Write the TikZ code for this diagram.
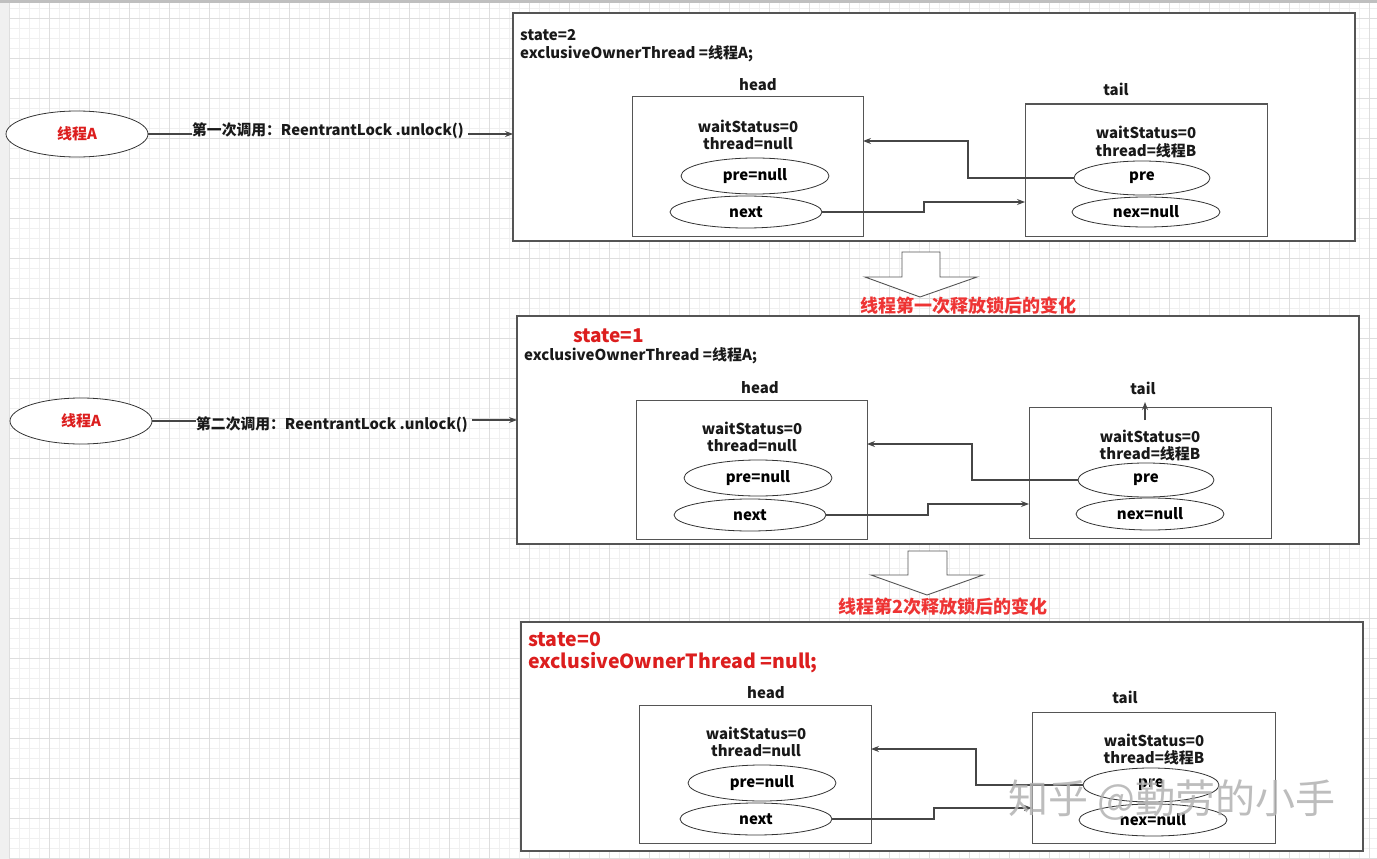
\documentclass[tikz,border=0pt]{standalone}
\usepackage{fontspec}
\setmainfont{Noto Sans CJK SC}
\usetikzlibrary{shapes.geometric,arrows.meta}
\definecolor{edge}{RGB}{85,85,85}
\definecolor{conn}{RGB}{70,70,70}
\definecolor{darkred}{RGB}{220,30,30}
\definecolor{lightred}{RGB}{238,52,52}
\definecolor{gminor}{RGB}{240,240,240}
\definecolor{gmajor}{RGB}{222,222,222}
\tikzset{
  txt/.style={font=\bfseries\fontsize{15}{17}\selectfont, text=black!90, inner sep=0pt},
  panel/.style={draw=edge, line width=1.2pt, fill=white, inner sep=0pt, outer sep=0pt},
  nodebox/.style={draw=edge, line width=1pt, fill=white, inner sep=0pt, outer sep=0pt},
  oval/.style={ellipse, draw=black!80, line width=0.8pt, fill=white, inner sep=0pt, outer sep=0pt, font=\bfseries\fontsize{15}{17}\selectfont},
  arr/.style={draw=conn, line width=1.1pt, -{Stealth[length=8pt,width=6pt]}},
  plain/.style={draw=conn, line width=1.1pt},
  bigarrow/.style={draw=edge, line width=0.9pt, fill=white},
  redlabel/.style={font=\bfseries\fontsize{18}{20}\selectfont, text=lightred, inner sep=0pt},
}
\begin{document}
\begin{tikzpicture}[x=1pt,y=-1pt]
\useasboundingbox (0,0) rectangle (1377,859);
\fill[white] (0,0) rectangle (1377,859);
% grid
\foreach \i in {0,...,137} {\draw[gminor, line width=0.6pt] (9.5+\i*10,3) -- (9.5+\i*10,859);}
\foreach \j in {0,...,85} {\draw[gminor, line width=0.6pt] (9,8+\j*10) -- (1377,8+\j*10);}
\foreach \i in {0,...,34} {\draw[gmajor, line width=0.6pt] (9.5+\i*40,3) -- (9.5+\i*40,859);}
\foreach \j in {0,...,21} {\draw[gmajor, line width=0.6pt] (9,18+\j*40) -- (1377,18+\j*40);}
\fill[black!6] (0,0) rectangle (9,859);
\fill[black!25] (0,0) rectangle (1377,3);

% ---------- Panel 1 ----------
\node[panel, minimum width=842pt, minimum height=228pt] (P1) at (934,127) {};
\node[txt, anchor=west] (s1) at (520,35) {state=2};
\node[txt, anchor=west] (e1) at (520,54) {exclusiveOwnerThread =线程A;};
\node[txt] (h1) at (758,85) {head};
\node[nodebox, minimum width=231pt, minimum height=139pt] (hb1) at (747.5,166.5) {};
\node[txt] (hw1) at (748,126) {waitStatus=0};
\node[txt] (ht1) at (748,144) {thread=null};
\node[oval, minimum width=148pt, minimum height=36pt] (hp1) at (755,176) {pre=null};
\node[oval, minimum width=152pt, minimum height=32pt] (hn1) at (746,212) {next};
\node[txt] (t1) at (1116,89) {tail};
\node[nodebox, minimum width=242pt, minimum height=132pt] (tb1) at (1146,170) {};
\node[txt] (tw1) at (1146,132) {waitStatus=0};
\node[txt] (tt1) at (1146,151) {thread=线程B};
\node[oval, minimum width=136pt, minimum height=34pt] (tp1) at (1142,178) {pre};
\node[oval, minimum width=148pt, minimum height=30pt] (tn1) at (1146,212) {nex=null};
\coordinate (c1a) at (968,141);
\coordinate (c1b) at (924,202);
\draw[arr] (tp1.west) -| (c1a) -- (c1a -| hb1.east);
\draw[arr] (hn1.east) -| (c1b) -- (c1b -| tb1.west);

% thread A (1)
\node[ellipse, draw=black!80, line width=0.8pt, fill=white, minimum width=142pt, minimum height=46pt, inner sep=0pt, font=\bfseries\fontsize{15}{17}\selectfont, text=darkred] (A1) at (77,134) {线程A};
\node[txt, font=\bfseries\fontsize{14.8}{17}\selectfont] (L1) at (328,131) {第一次调用：ReentrantLock .unlock()};
\draw[plain] (A1.east) -- (A1.east -| L1.west);
\draw[arr] ([xshift=4pt,yshift=-3pt]L1.east) -- ([yshift=-3pt]L1.east -| P1.west);

% big arrow 1
\draw[bigarrow] (902,252) -- (940,252) -- (940,277) -- (977,277) -- (920,297) -- (865,277) -- (902,277) -- cycle;
\node[redlabel] (R1) at (968,306) {线程第一次释放锁后的变化};

% ---------- Panel 2 ----------
\node[panel, minimum width=842pt, minimum height=228pt] (P2) at (938,430) {};
\node[txt, anchor=west, font=\bfseries\fontsize{19}{21}\selectfont, text=darkred] (s2) at (573,336) {state=1};
\node[txt, anchor=west] (e2) at (524,356) {exclusiveOwnerThread =线程A;};
\node[txt] (h2) at (760,388) {head};
\node[nodebox, minimum width=231pt, minimum height=139pt] (hb2) at (751.5,469.5) {};
\node[txt] (hw2) at (752,428) {waitStatus=0};
\node[txt] (ht2) at (752,446) {thread=null};
\node[oval, minimum width=148pt, minimum height=36pt] (hp2) at (758,478) {pre=null};
\node[oval, minimum width=152pt, minimum height=32pt] (hn2) at (750,515) {next};
\node[txt] (t2) at (1143,388) {tail};
\node[nodebox, minimum width=242pt, minimum height=131pt] (tb2) at (1150,472.5) {};
\node[txt] (tw2) at (1150,436) {waitStatus=0};
\node[txt] (tt2) at (1150,454) {thread=线程B};
\node[oval, minimum width=136pt, minimum height=34pt] (tp2) at (1146,480) {pre};
\node[oval, minimum width=148pt, minimum height=32pt] (tn2) at (1150,514) {nex=null};
\coordinate (c2a) at (972,444);
\coordinate (c2b) at (928,504);
\draw[arr] (tp2.west) -| (c2a) -- (c2a -| hb2.east);
\draw[arr] (hn2.east) -| (c2b) -- (c2b -| tb2.west);
\coordinate (up2a) at (1145,420);
\coordinate (up2b) at (1145,402);
\draw[arr] (up2a) -- (up2b);

% thread A (2)
\node[ellipse, draw=black!80, line width=0.8pt, fill=white, minimum width=142pt, minimum height=46pt, inner sep=0pt, font=\bfseries\fontsize{15}{17}\selectfont, text=darkred] (A2) at (81,421) {线程A};
\node[txt, font=\bfseries\fontsize{14.8}{17}\selectfont] (L2) at (332,425) {第二次调用：ReentrantLock .unlock()};
\draw[plain] (A2.east) -- (A2.east -| L2.west);
\draw[arr] ([xshift=4pt,yshift=5pt]L2.east) -- ([yshift=5pt]L2.east -| P2.west);

% big arrow 2
\draw[bigarrow] (908,551) -- (947,551) -- (947,575) -- (983,575) -- (927,595) -- (871,575) -- (908,575) -- cycle;
\node[redlabel] (R2) at (943,607) {线程第2次释放锁后的变化};

% ---------- Panel 3 ----------
\node[panel, minimum width=842pt, minimum height=229pt] (P3) at (942,736.5) {};
\node[txt, anchor=west, font=\bfseries\fontsize{19.5}{22}\selectfont, text=darkred] (s3) at (528,639) {state=0};
\node[txt, anchor=west, font=\bfseries\fontsize{19.5}{22}\selectfont, text=darkred] (e3) at (528,663) {exclusiveOwnerThread =null;};
\node[txt] (h3) at (766,693) {head};
\node[nodebox, minimum width=232pt, minimum height=138pt] (hb3) at (755,774) {};
\node[txt] (hw3) at (756,733) {waitStatus=0};
\node[txt] (ht3) at (756,751) {thread=null};
\node[oval, minimum width=148pt, minimum height=36pt] (hp3) at (762,783) {pre=null};
\node[oval, minimum width=152pt, minimum height=32pt] (hn3) at (756,819) {next};
\node[txt] (t3) at (1125,697) {tail};
\node[nodebox, minimum width=243pt, minimum height=131pt] (tb3) at (1153.5,777.5) {};
\node[txt] (tw3) at (1154,740) {waitStatus=0};
\node[txt] (tt3) at (1154,758) {thread=线程B};
\node[oval, minimum width=136pt, minimum height=34pt] (tp3) at (1151,785) {pre};
\node[oval, minimum width=148pt, minimum height=32pt] (tn3) at (1153,820) {nex=null};
\coordinate (c3a) at (976,749);
\coordinate (c3b) at (934,808);
\draw[arr] (tp3.west) -| (c3a) -- (c3a -| hb3.east);
\draw[arr] (hn3.east) -| (c3b) -- (c3b -| tb3.west);

% watermark
\node[font=\fontsize{40}{44}\selectfont, text=gray!60, opacity=0.85, inner sep=0pt] (wm) at (1172,800) {知乎 @勤劳的小手};
\end{tikzpicture}
\end{document}
